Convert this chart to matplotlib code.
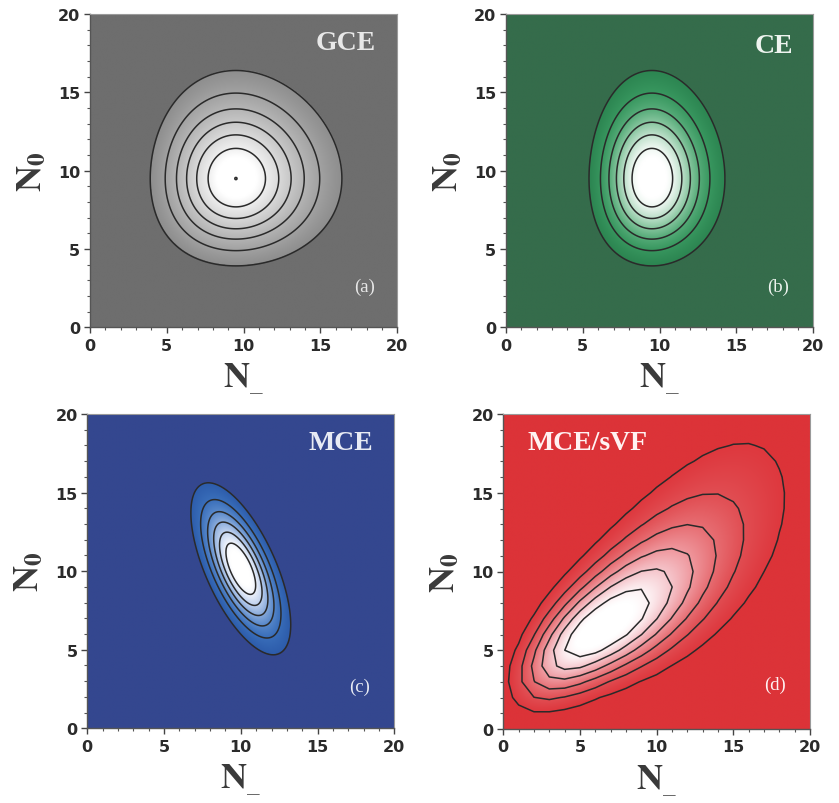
import math
import numpy as np
import matplotlib
matplotlib.use("Agg")
import matplotlib.pyplot as plt
from matplotlib.ticker import MultipleLocator
from matplotlib.colors import to_rgb, ListedColormap

plt.rcParams['mathtext.fontset'] = 'stix'

# ---------------- data ----------------
AXIS_RANGE = [0, 20]
MAJOR_TICKS = [0, 5, 10, 15, 20]
LEVEL_FRACS = [0.14, 0.28, 0.42, 0.56, 0.70, 0.84]   # contour levels / peak
GCE_PEAK_FRAC = 0.9997                               # tiny peak contour (a)

panel_names = ["GCE", "CE", "MCE", "MCE/sVF"]
panel_tags = ["(a)", "(b)", "(c)", "(d)"]

# (a) GCE : independent Poisson multiplicities  <N->, <N0>
gce_mean = [10.0, 10.0]
# (b) CE : charge conservation (N+ = N-) narrows N-
ce_mean = [10.0, 10.0]
# (c) MCE : anti-correlated Gaussian
mce_center = [10.0, 10.15]
mce_sigma = [1.64, 2.76]
mce_rho = -0.65
# (d) MCE/sVF : skewed, positively correlated
svf_mode = [6.5, 6.45]
svf_axis_deg = 34.0
svf_twist = 0.011
svf_scale = 10.0
svf_shape = 3.3
svf_sigma_perp = 2.1
svf_widening = 0.5

bg_colors = ['#6e6e6e', '#356c4b', '#34478f', '#dc3338']
ramps = [
    ['#8e8e8e', '#a2a2a2', '#b4b4b4', '#c6c6c6', '#d9d9d9', '#eeeeee'],
    ['#2c8551', '#38975f', '#55ab78', '#86c59e', '#bde0ca', '#eef7f1'],
    ['#2d5cab', '#396eba', '#5888ca', '#8aabdb', '#bfd1ee', '#eff3fb'],
    ['#de383e', '#e14e53', '#e76e73', '#ef979d', '#f5c4ca', '#fdf0f2'],
]
text_colors = ['#e8e8e8', '#eef4ef', '#e8ebf4', '#fff2f2']

# ---------------- fields ----------------
lg = np.vectorize(math.lgamma)


def field(i, coarse=False):
    if coarse:
        g = np.arange(AXIS_RANGE[0], AXIS_RANGE[1] + 1, 1.0)
    else:
        g = np.linspace(AXIS_RANGE[0], AXIS_RANGE[1], 401)
    X, Y = np.meshgrid(g, g)
    if i == 0:
        L = (X * np.log(gce_mean[0]) - lg(X + 1)) + (Y * np.log(gce_mean[1]) - lg(Y + 1))
    elif i == 1:
        L = 2 * (X * np.log(ce_mean[0]) - lg(X + 1)) + (Y * np.log(ce_mean[1]) - lg(Y + 1))
    elif i == 2:
        dx = (X - mce_center[0]) / mce_sigma[0]
        dy = (Y - mce_center[1]) / mce_sigma[1]
        L = -(dx**2 - 2 * mce_rho * dx * dy + dy**2) / (2 * (1 - mce_rho**2))
    else:
        th = np.deg2rad(svf_axis_deg)
        dx, dy = X - svf_mode[0], Y - svf_mode[1]
        u = dx * np.cos(th) + dy * np.sin(th)
        v = -dx * np.sin(th) + dy * np.cos(th)
        v = v - svf_twist * u * np.abs(u)
        t = np.maximum(u / svf_scale, -0.995)
        sig = svf_sigma_perp * np.maximum(1 + svf_widening * t, 0.2)
        L = svf_shape * (np.log1p(t) - t) - 0.5 * (v / sig) ** 2
    Z = np.exp(L - L.max())
    return X, Y, Z


def make_cmap(i, n=1024):
    ramp = [np.array(to_rgb(c)) for c in ramps[i]]
    bg = np.array(to_rgb(bg_colors[i]))
    cols = []
    for m in (np.arange(n) + 0.5) / n:
        if m < LEVEL_FRACS[0]:
            c = bg
        elif m >= LEVEL_FRACS[-1]:
            s = min(1.0, 2 * (m - LEVEL_FRACS[-1]) / (1 - LEVEL_FRACS[-1]))
            c = ramp[-1] * (1 - s) + np.ones(3) * s
        else:
            p = np.interp(m, LEVEL_FRACS, np.arange(len(LEVEL_FRACS)))
            k = int(min(np.floor(p), len(ramp) - 2))
            f = p - k
            c = ramp[k] * (1 - f) + ramp[k + 1] * f
        cols.append(np.clip(c, 0, 1))
    return ListedColormap(cols)


W, H = 839, 804
rects_px = [(90, 397.3, 15, 328.3), (506, 813.3, 15, 328.3),
            (87.3, 394.3, 415, 729.3), (503.3, 810, 415, 730)]
name_pos = [(18.6, 18.15, 'right'), (18.7, 18.0, 'right'),
            (18.6, 18.2, 'right'), (1.55, 18.2, 'left')]
tag_pos = [(18.55, 2.6), (18.4, 2.64), (18.4, 2.66), (18.4, 2.83)]

fig = plt.figure(figsize=(W / 100, H / 100), dpi=100)
fig.patch.set_facecolor('white')

for i in range(4):
    l, r, t, b = rects_px[i]
    ax = fig.add_axes([l / W, 1 - b / H, (r - l) / W, (b - t) / H])
    ax.set_facecolor(bg_colors[i])
    X, Y, Z = field(i)
    ax.imshow(Z, origin='lower', extent=AXIS_RANGE + AXIS_RANGE,
              cmap=make_cmap(i), vmin=0, vmax=1, interpolation='bilinear',
              aspect='auto', zorder=0)
    if i == 3:
        X, Y, Z = field(i, coarse=True)
    lv = list(LEVEL_FRACS) + ([GCE_PEAK_FRAC] if i == 0 else [])
    ax.contour(X, Y, Z, levels=lv, colors='#2a2a2a', linewidths=1.1, zorder=1)

    ax.set_xlim(AXIS_RANGE)
    ax.set_ylim(AXIS_RANGE)
    ax.set_xticks(MAJOR_TICKS)
    ax.set_yticks(MAJOR_TICKS)
    ax.xaxis.set_minor_locator(MultipleLocator(1))
    ax.yaxis.set_minor_locator(MultipleLocator(1))
    ax.tick_params(which='major', direction='out', length=4, width=1.0,
                   color='#444444', top=False, right=False)
    ax.tick_params(which='minor', direction='out', length=2.5, width=0.8,
                   color='#555555', top=False, right=False)
    ax.tick_params(axis='x', which='major', pad=3.5)
    ax.tick_params(axis='y', which='major', pad=3)
    for lab in ax.get_xticklabels() + ax.get_yticklabels():
        lab.set_fontfamily('DejaVu Sans')
        lab.set_fontweight('bold')
        lab.set_fontsize(11.5)
        lab.set_color('#2b2b2b')
    for s in ['left', 'bottom']:
        ax.spines[s].set_color('#555555')
        ax.spines[s].set_linewidth(1.0)
    for s in ['top', 'right']:
        ax.spines[s].set_color('#9a9a9a')
        ax.spines[s].set_linewidth(0.8)

    ax.set_xlabel(r'$\mathbf{N}_{\_}$', fontsize=26, color='#3a3a3a',
                  labelpad=6)
    ax.set_ylabel(r'$\mathbf{N}_{\mathbf{0}}$', fontsize=26, color='#3a3a3a',
                  labelpad=7)

    nx, ny, ha = name_pos[i]
    ax.text(nx, ny, panel_names[i], ha=ha, va='center', fontsize=20,
            fontfamily='Liberation Serif', fontweight='bold',
            color=text_colors[i])
    tx, ty = tag_pos[i]
    ax.text(tx, ty, panel_tags[i], ha='right', va='center', fontsize=13.5,
            fontfamily='Liberation Serif', color=text_colors[i])

fig.savefig('out.png', dpi=100, facecolor='white')
